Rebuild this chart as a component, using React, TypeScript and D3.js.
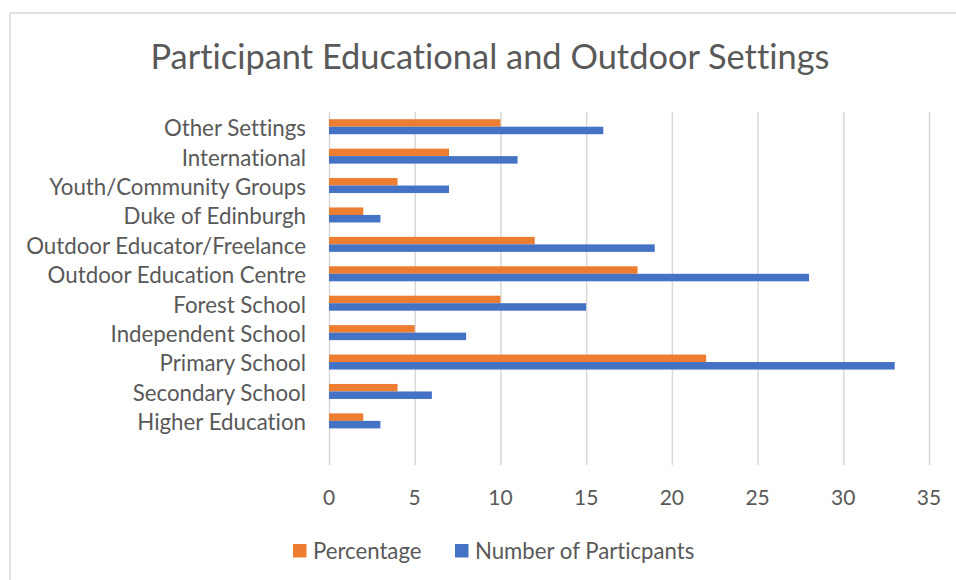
import { useEffect, useRef } from "react";
import * as d3 from "d3";

const categories = [
  "Other Settings",
  "International",
  "Youth/Community Groups",
  "Duke of Edinburgh",
  "Outdoor Educator/Freelance",
  "Outdoor Education Centre",
  "Forest School",
  "Independent School",
  "Primary School",
  "Secondary School",
  "Higher Education",
  "",
];
const percentage = [10, 7, 4, 2, 12, 18, 10, 5, 22, 4, 2, null];
const participants = [16, 11, 7, 3, 19, 28, 15, 8, 33, 6, 3, null];
const seriesNames = ["Percentage", "Number of Particpants"];
const xTicks = [0, 5, 10, 15, 20, 25, 30, 35];

const colors = ["#ED7D31", "#4472C4"];
const font = "Lato, 'Open Sans', sans-serif";

export default function App() {
  const ref = useRef<SVGSVGElement>(null);

  useEffect(() => {
    const width = 956;
    const height = 580;
    const margin = { top: 112, right: 27, bottom: 115, left: 329 };

    const svg = d3.select(ref.current);
    svg.selectAll("*").remove();
    svg
      .attr("viewBox", `0 0 ${width} ${height}`)
      .style("font-variant-ligatures", "none");

    svg
      .append("rect")
      .attr("width", width)
      .attr("height", height)
      .attr("fill", "#fff");

    // chart frame
    svg
      .append("rect")
      .attr("x", 10)
      .attr("y", 13)
      .attr("width", width + 20)
      .attr("height", height + 20)
      .attr("fill", "none")
      .attr("stroke", "#d9d9d9")
      .attr("stroke-width", 1.5);

    const x = d3
      .scaleLinear()
      .domain([0, 35])
      .range([margin.left, width - margin.right]);

    const y = d3
      .scaleBand()
      .domain(categories)
      .range([margin.top, height - margin.bottom])
      .paddingInner(0.49)
      .paddingOuter(0.245);

    const sub = d3
      .scaleBand()
      .domain(seriesNames)
      .range([0, y.bandwidth()]);

    // gridlines
    svg
      .append("g")
      .attr("transform", `translate(0,${height - margin.bottom})`)
      .call(
        d3
          .axisBottom(x)
          .tickValues(xTicks)
          .tickSize(-(height - margin.bottom - margin.top))
          .tickFormat(() => ""),
      )
      .call((g) => g.select(".domain").remove())
      .call((g) =>
        g.selectAll("line").attr("stroke", "#d9d9d9").attr("stroke-width", 1.5),
      );

    // x tick labels
    svg
      .append("g")
      .selectAll("text")
      .data(xTicks)
      .join("text")
      .attr("x", (d) => x(d))
      .attr("y", 505)
      .attr("text-anchor", "middle")
      .attr("font-family", font)
      .attr("font-size", 21)
      .attr("fill", "#595959")
      .text((d) => d);

    // category labels
    svg
      .append("g")
      .attr("transform", `translate(${margin.left},0)`)
      .call(d3.axisLeft(y).tickSize(0).tickPadding(23))
      .call((g) => g.select(".domain").remove())
      .call((g) =>
        g
          .selectAll("text")
          .attr("font-family", font)
          .attr("font-size", 22.3)
          .attr("fill", "#595959")
          .attr("dy", "0.42em"),
      );

    const rows = categories.map((c, i) => ({
      cat: c,
      values: [percentage[i], participants[i]],
    }));

    const groups = svg
      .append("g")
      .selectAll("g")
      .data(rows.filter((r) => r.cat !== ""))
      .join("g")
      .attr("transform", (d) => `translate(0,${y(d.cat)})`);

    groups
      .selectAll("rect")
      .data((d) => d.values.map((v, k) => ({ v: v ?? 0, k })))
      .join("rect")
      .attr("x", x(0))
      .attr("y", (d) => sub(seriesNames[d.k]))
      .attr("width", (d) => x(d.v) - x(0))
      .attr("height", sub.bandwidth())
      .attr("fill", (d) => colors[d.k]);

    // title
    svg
      .append("text")
      .attr("x", 490)
      .attr("y", 69)
      .attr("text-anchor", "middle")
      .attr("font-family", font)
      .attr("font-size", 34.4)
      .attr("fill", "#595959")
      .text("Participant Educational and Outdoor Settings");

    // legend
    const legendX = [293, 455];
    const legend = svg
      .append("g")
      .selectAll("g")
      .data(seriesNames)
      .join("g")
      .attr("transform", (_, i) => `translate(${legendX[i]},544)`);

    legend
      .append("rect")
      .attr("width", 13.5)
      .attr("height", 13.5)
      .attr("fill", (_, i) => colors[i]);

    legend
      .append("text")
      .attr("x", 20)
      .attr("y", 14.5)
      .attr("font-family", font)
      .attr("font-size", 22.2)
      .attr("fill", "#595959")
      .text((d) => d);
  }, []);

  return (
    <div style={{ position: "absolute", left: 0, top: 0 }}>
      <svg ref={ref} width={956} height={580} style={{ display: "block" }} />
    </div>
  );
}
